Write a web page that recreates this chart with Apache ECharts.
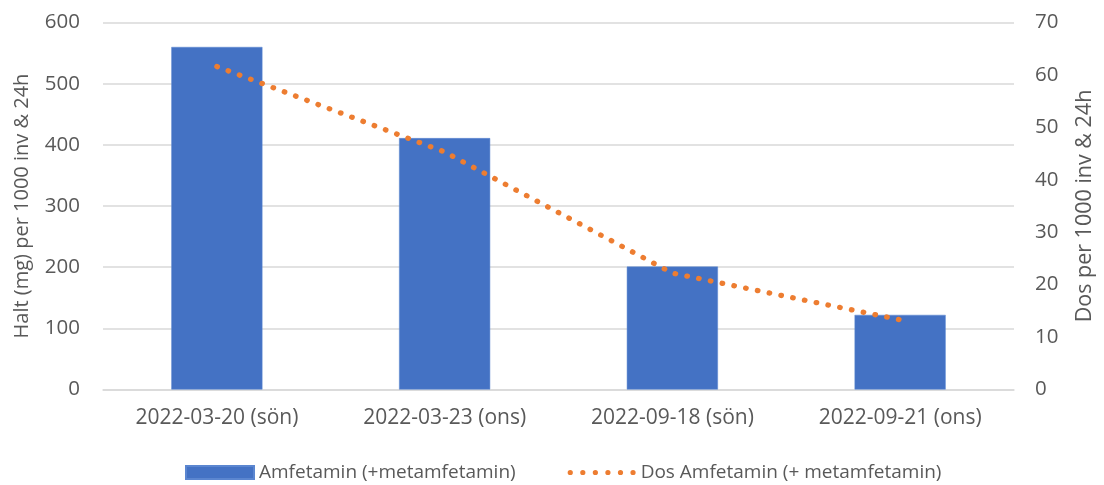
<!DOCTYPE html>
<html><head><meta charset="utf-8">
<script src="https://cdn.jsdelivr.net/npm/echarts@6/dist/echarts.min.js"></script>
<style>html,body{margin:0;padding:0;background:#fff}#c{width:1104px;height:485px}</style>
</head><body><div id="c"></div>
<script>
const categories = ['2022-03-20 (sön)', '2022-03-23 (ons)', '2022-09-18 (sön)', '2022-09-21 (ons)'];
const barValues = [560, 411, 201, 122];
const lineValues = [61.6, 45.3, 22.2, 13.3];
const barName = 'Amfetamin (+metamfetamin)';
const lineName = 'Dos Amfetamin (+ metamfetamin)';
const leftTitle = 'Halt (mg) per 1000 inv & 24h';
const rightTitle = 'Dos per 1000 inv & 24h';

const FONT = 'Open Sans';
const TXT = '#595959';
const dotsIcon = 'path://M0,2.5a2.5,2.5 0 1,0 5,0a2.5,2.5 0 1,0 -5,0' +
  'M12,2.5a2.5,2.5 0 1,0 5,0a2.5,2.5 0 1,0 -5,0' +
  'M24,2.5a2.5,2.5 0 1,0 5,0a2.5,2.5 0 1,0 -5,0' +
  'M36,2.5a2.5,2.5 0 1,0 5,0a2.5,2.5 0 1,0 -5,0' +
  'M48,2.5a2.5,2.5 0 1,0 5,0a2.5,2.5 0 1,0 -5,0' +
  'M60,2.5a2.5,2.5 0 1,0 5,0a2.5,2.5 0 1,0 -5,0';
const chart = echarts.init(document.getElementById('c'), null, {renderer: 'canvas'});
chart.setOption({
  animation: false,
  textStyle: {fontFamily: FONT, color: TXT},
  grid: {left: 103, right: 84, top: 22.5, bottom: 95.5, containLabel: false},
  legend: {
    top: 458, left: 180, itemGap: 52, itemWidth: 68, itemHeight: 13,
    textStyle: {fontFamily: FONT, fontSize: 19, color: TXT},
    data: [
      {name: barName, icon: 'rect'},
      {name: lineName, icon: dotsIcon}
    ]
  },
  xAxis: {
    type: 'category', data: categories,
    axisLine: {lineStyle: {color: '#D9D9D9', width: 1.5}},
    axisTick: {show: false},
    axisLabel: {fontFamily: FONT, fontSize: 21, color: TXT, margin: 18}
  },
  yAxis: [
    {
      type: 'value', min: 0, max: 600, interval: 100,
      name: leftTitle, nameLocation: 'middle', nameGap: 71, nameRotate: 90,
      nameTextStyle: {fontFamily: FONT, fontSize: 20, color: TXT},
      axisLine: {show: false}, axisTick: {show: false},
      axisLabel: {fontFamily: FONT, fontSize: 20.5, color: TXT, margin: 23},
      splitLine: {lineStyle: {color: '#D9D9D9', width: 1.5}}
    },
    {
      type: 'value', min: 0, max: 70, interval: 10, position: 'right',
      name: rightTitle, nameLocation: 'middle', nameGap: 60, nameRotate: 90,
      nameTextStyle: {fontFamily: FONT, fontSize: 21.5, color: TXT},
      axisLine: {show: false}, axisTick: {show: false},
      axisLabel: {fontFamily: FONT, fontSize: 20.5, color: TXT, margin: 21},
      splitLine: {show: false}
    }
  ],
  series: [
    {
      name: barName, type: 'bar', data: barValues, yAxisIndex: 0,
      barWidth: '40%',
      itemStyle: {color: '#4472C4', borderColor: '#5B86D0', borderWidth: 0.5}
    },
    {
      name: lineName, type: 'line', data: lineValues, yAxisIndex: 1,
      showSymbol: false, symbol: 'none',
      itemStyle: {color: '#ED7D31'},
      lineStyle: {color: '#ED7D31', width: 5.3, type: [0.5, 11.5], cap: 'round'}
    }
  ]
});
</script></body></html>
